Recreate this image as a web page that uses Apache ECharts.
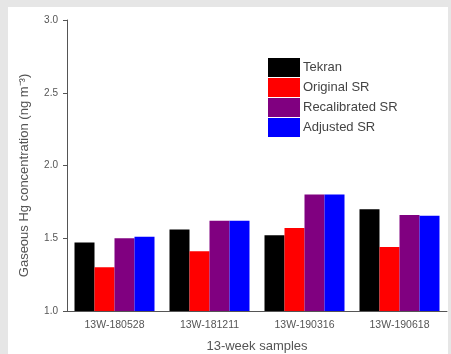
<!DOCTYPE html>
<html><head><meta charset="utf-8">
<script src="https://cdn.jsdelivr.net/npm/echarts@6/dist/echarts.min.js"></script>
<style>html,body{margin:0;padding:0;background:#fff}#c{width:451px;height:354px}</style>
</head><body><div id="c"></div>
<script>
const categories = ['13W-180528', '13W-181211', '13W-190316', '13W-190618'];
const tekran = [1.47, 1.56, 1.52, 1.70];
const originalSR = [1.30, 1.41, 1.57, 1.44];
const recalibratedSR = [1.50, 1.62, 1.80, 1.66];
const adjustedSR = [1.51, 1.62, 1.80, 1.655];
const yTicks = [1.0, 1.5, 2.0, 2.5, 3.0];

const chart = echarts.init(document.getElementById('c'));
const txt = '#555';
const ff = 'Liberation Sans, Arial';
function bar(name, data, color) {
  return { name, type: 'bar', data, barWidth: 20, barGap: '0%', itemStyle: { color } };
}
chart.setOption({
  backgroundColor: '#fff',
  animation: false,
  graphic: [
    { type: 'rect', shape: { x: 0, y: 0, width: 451, height: 7 }, style: { fill: '#e6e6e6' }, z: -1 },
    { type: 'rect', shape: { x: 0, y: 0, width: 8, height: 354 }, style: { fill: '#e6e6e6' }, z: -1 },
    { type: 'rect', shape: { x: 448, y: 0, width: 3, height: 354 }, style: { fill: '#e6e6e6' }, z: -1 }
  ],
  grid: { left: 67, top: 20, right: 4, bottom: 43, containLabel: false, outerBoundsMode: 'none' },
  legend: {
    orient: 'vertical', left: 263, top: 53, itemWidth: 32, itemHeight: 19, itemGap: 1,
    icon: 'rect',
    textStyle: { color: '#444', fontSize: 13, fontFamily: ff, padding: [0, 0, 0, -2] },
    data: ['Tekran', 'Original SR', 'Recalibrated SR', 'Adjusted SR']
  },
  xAxis: {
    type: 'category', data: categories,
    name: '13-week samples', nameLocation: 'middle', nameGap: 29,
    nameTextStyle: { color: txt, fontSize: 13, fontFamily: ff },
    axisLine: { lineStyle: { color: '#555', width: 1 } },
    axisTick: { alignWithLabel: true, length: 4, lineStyle: { color: '#555' } },
    axisLabel: { color: txt, fontSize: 10.5, margin: 9, fontFamily: ff }
  },
  yAxis: {
    type: 'value', min: 1.0, max: 3.0, interval: 0.5,
    name: 'Gaseous Hg concentration (ng m\u207B\u00B3)', nameLocation: 'middle', nameGap: 36,
    nameTextStyle: { color: txt, fontSize: 13, fontFamily: ff, padding: [0, 20, 0, 0] },
    splitLine: { show: false },
    axisLine: { show: true, lineStyle: { color: '#555', width: 1 } },
    axisTick: { show: true, length: 4, lineStyle: { color: '#555' } },
    axisLabel: { color: txt, fontSize: 10, margin: 9, fontFamily: ff,
      formatter: v => yTicks.includes(v) ? v.toFixed(1) : '' }
  },
  series: [
    bar('Tekran', tekran, '#000000'),
    bar('Original SR', originalSR, '#ff0000'),
    bar('Recalibrated SR', recalibratedSR, '#800080'),
    bar('Adjusted SR', adjustedSR, '#0000ff')
  ]
});
</script></body></html>
